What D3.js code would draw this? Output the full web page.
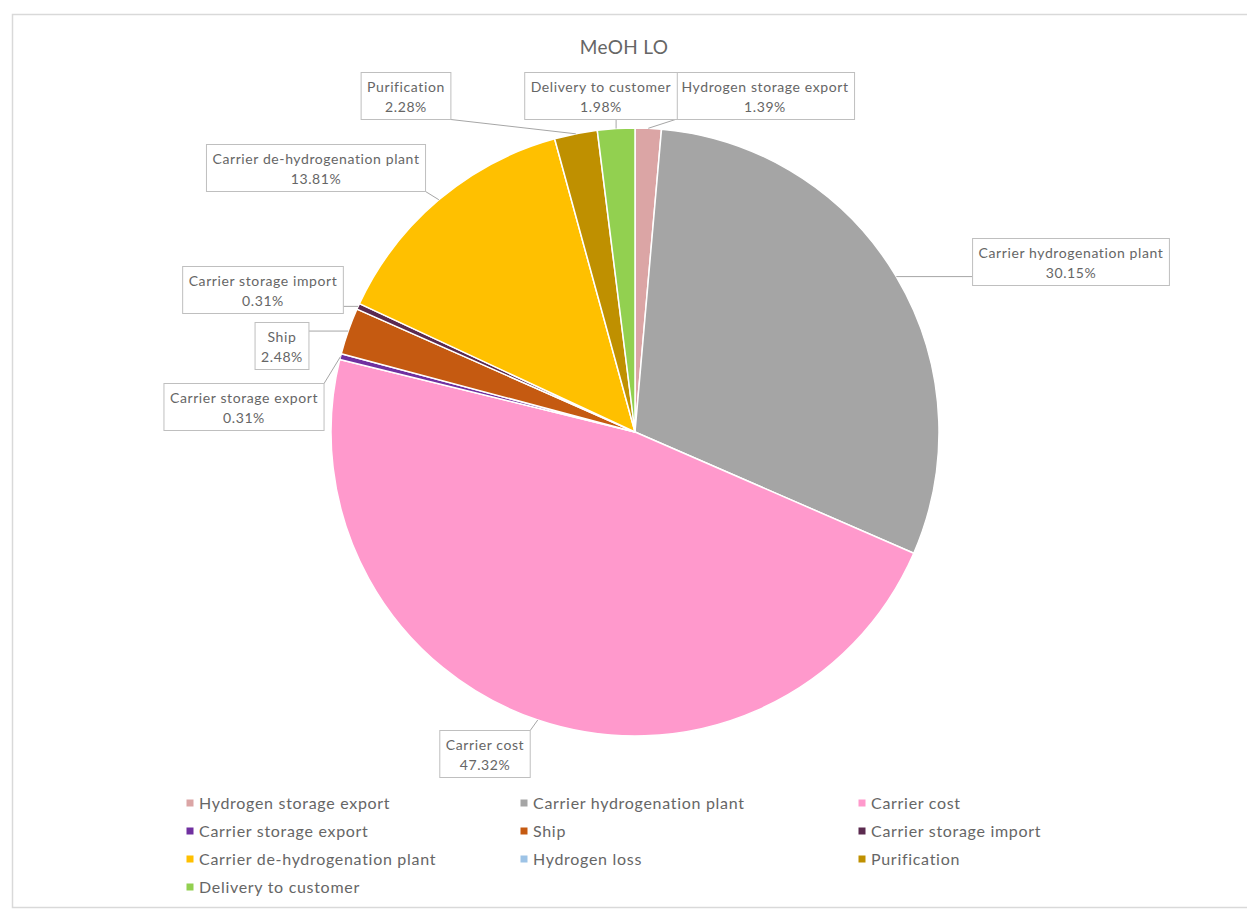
<!DOCTYPE html>
<html>
<head>
<meta charset="utf-8">
<script src="https://cdn.jsdelivr.net/npm/d3@7"></script>
<style>
  html, body { margin: 0; padding: 0; background: #ffffff; }
  svg { display: block; }
  text { font-family: Lato, "Open Sans", sans-serif; fill: #666666; }
</style>
</head>
<body>
<svg id="chart" width="1247" height="910"></svg>
<script>
// Cost breakdown of the MeOH LO chain, in percent of total
const categories = [
  "Hydrogen storage export",
  "Carrier hydrogenation plant",
  "Carrier cost",
  "Carrier storage export",
  "Ship",
  "Carrier storage import",
  "Carrier de-hydrogenation plant",
  "Hydrogen loss",
  "Purification",
  "Delivery to customer"
];
const shares = [1.39, 30.15, 47.32, 0.31, 2.48, 0.31, 13.81, 0.00, 2.28, 1.98];
const sliceColors = [
  "#dba5a5", "#a5a5a5", "#ff99cc", "#7030a0", "#c55a11",
  "#5b2a4f", "#ffc000", "#9dc3e6", "#bf9000", "#92d050"
];
const chartTitle = "MeOH LO";

// Callout box centres for each data label (chart layout)
const calloutCentres = {
  "Hydrogen storage export": [765, 96],
  "Carrier hydrogenation plant": [1071, 262],
  "Carrier cost": [485, 754],
  "Carrier storage export": [244, 407],
  "Ship": [282, 346],
  "Carrier storage import": [263, 290],
  "Carrier de-hydrogenation plant": [316, 168],
  "Purification": [406, 96],
  "Delivery to customer": [601, 96]
};

const svg = d3.select("#chart");
const W = 1247, H = 910;
const cx = 635, cy = 432, R = 304;

// chart frame
svg.append("rect")
  .attr("x", 12.5).attr("y", 14.5)
  .attr("width", W + 10).attr("height", 893)
  .attr("fill", "#ffffff")
  .attr("stroke", "#d9d9d9").attr("stroke-width", 1.5);

// title
svg.append("text")
  .attr("x", 624).attr("y", 54)
  .attr("text-anchor", "middle")
  .style("font-size", "19px")
  .style("letter-spacing", "0.3px")
  .text(chartTitle);

const data = categories.map((c, i) => ({ name: c, value: shares[i], color: sliceColors[i] }));

const pie = d3.pie().sort(null).value(d => d.value);
const arcs = pie(data);
const arc = d3.arc().innerRadius(0).outerRadius(R);

const g = svg.append("g").attr("transform", `translate(${cx},${cy})`);
g.selectAll("path.slice")
  .data(arcs.filter(a => a.data.value > 0))
  .join("path")
  .attr("class", "slice")
  .attr("d", arc)
  .attr("fill", d => d.data.color)
  .attr("stroke", "#ffffff")
  .attr("stroke-width", 1.5)
  .attr("stroke-linejoin", "round");

// data label callouts with leader lines
const fmt = d3.format(".2f");
const labelFont = 14;
const callouts = svg.append("g");
arcs.filter(a => a.data.value > 0).forEach(a => {
  const pos = calloutCentres[a.data.name];
  if (!pos) return;
  const grp = callouts.append("g");
  const t1 = grp.append("text")
    .attr("x", pos[0]).attr("y", pos[1] - 4)
    .attr("text-anchor", "middle")
    .style("font-size", labelFont + "px")
    .style("letter-spacing", "0.6px")
    .text(a.data.name);
  const t2 = grp.append("text")
    .attr("x", pos[0]).attr("y", pos[1] + 16)
    .attr("text-anchor", "middle")
    .style("font-size", labelFont + "px")
    .style("letter-spacing", "0.6px")
    .text(fmt(a.data.value) + "%");
  const w = Math.max(t1.node().getComputedTextLength(), t2.node().getComputedTextLength()) + 12;
  const h = 47;
  const x0 = pos[0] - w / 2, y0 = pos[1] - h / 2;
  grp.insert("rect", "text")
    .attr("x", x0).attr("y", y0)
    .attr("width", w).attr("height", h)
    .attr("fill", "#ffffff")
    .attr("stroke", "#bfbfbf").attr("stroke-width", 1);

  // leader: from nearest box point to slice edge at mid-angle
  const mid = (a.startAngle + a.endAngle) / 2;
  const tx = cx + R * Math.sin(mid), ty = cy - R * Math.cos(mid);
  const sx = Math.max(x0, Math.min(x0 + w, tx));
  const sy = Math.max(y0, Math.min(y0 + h, ty));
  callouts.insert("line", "g")
    .attr("x1", sx).attr("y1", sy)
    .attr("x2", tx).attr("y2", ty)
    .attr("stroke", "#a6a6a6").attr("stroke-width", 1);
});

// legend (three columns, row-major)
const colX = [190, 524, 862];
const rowY = [803, 831, 859, 887];
const legend = svg.append("g");
data.forEach((d, i) => {
  const col = i % 3, row = Math.floor(i / 3);
  const lg = legend.append("g")
    .attr("transform", `translate(${colX[col]},${rowY[row]})`);
  lg.append("rect")
    .attr("x", -3.5).attr("y", -3.5)
    .attr("width", 7).attr("height", 7)
    .attr("fill", d.color);
  lg.append("text")
    .attr("x", 9).attr("y", 5.5)
    .style("font-size", "16px")
    .style("letter-spacing", "0.7px")
    .text(d.name);
});
</script>
</body>
</html>
